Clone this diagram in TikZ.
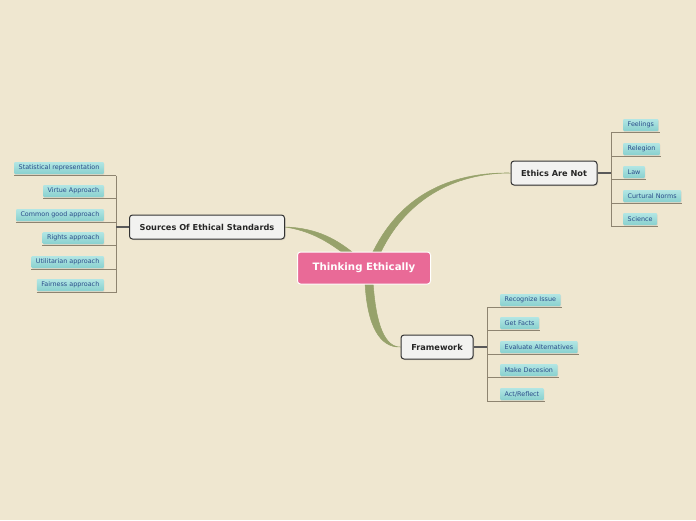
\documentclass[tikz,border=0pt]{standalone}
\usepackage{fontspec}
\setmainfont{DejaVu Sans}
\usetikzlibrary{calc,backgrounds,shadows}

\definecolor{paper}{HTML}{EFE7D0}
\definecolor{rootpink}{HTML}{E96A97}
\definecolor{branchgreen}{HTML}{97A26B}
\definecolor{topicfill}{HTML}{F2F2F0}
\definecolor{topicline}{HTML}{333333}
\definecolor{leaftop}{HTML}{B2E6E4}
\definecolor{leafbottom}{HTML}{88D0CE}
\definecolor{leaftext}{HTML}{2B4C8A}
\definecolor{twigline}{HTML}{8E8470}

\tikzset{
  rootnode/.style={draw=white, line width=1pt, fill=rootpink, rounded corners=3pt,
    text=white, font=\fontsize{10.2}{12}\selectfont\bfseries,
    minimum width=133pt, minimum height=32pt},
  topicnode/.style={draw=topicline, line width=1pt, fill=topicfill, rounded corners=3pt,
    text=black!85, font=\fontsize{8.2}{10}\selectfont\bfseries,
    minimum height=24pt, inner xsep=2pt,
    drop shadow={opacity=0.3, shadow xshift=1pt, shadow yshift=-1pt}},
  leafnode/.style={top color=leaftop, bottom color=leafbottom, rounded corners=1pt,
    text=leaftext, font=\fontsize{6.4}{8}\selectfont,
    minimum height=12pt, inner xsep=4.5pt, inner ysep=0pt,
    drop shadow={opacity=0.15, shadow xshift=0.5pt, shadow yshift=-1pt}},
  branch/.style={fill=branchgreen, draw=branchgreen, line width=0.5pt},
  twig/.style={draw=twigline, line width=1pt},
  stem/.style={draw=black!65, line width=1.3pt}
}

\begin{document}
\begin{tikzpicture}[x=1pt, y=-1pt]

  % Page: 696 x 520, y grows downward
  \useasboundingbox (0,0) rectangle (696,520);

  % Central and topic nodes
  \node[rootnode] (root) at (364,268) {Thinking Ethically};
  \node[topicnode, minimum width=155pt] (std) at (207,227) {Sources Of Ethical Standards};
  \node[topicnode, minimum width=86pt]  (ean) at (554,173) {Ethics Are Not};
  \node[topicnode, minimum width=72pt]  (fw)  at (437,347) {Framework};

  % Sources Of Ethical Standards (left)
  \node[leafnode, anchor=east] (std1) at (104,168) {Statistical representation};
  \node[leafnode, anchor=east] (std2) at (104,191) {Virtue Approach};
  \node[leafnode, anchor=east] (std3) at (104,215) {Common good approach};
  \node[leafnode, anchor=east] (std4) at (104,238) {Rights approach};
  \node[leafnode, anchor=east] (std5) at (104,262) {Utilitarian approach};
  \node[leafnode, anchor=east] (std6) at (104,285) {Fairness approach};

  % Ethics Are Not (right)
  \node[leafnode, anchor=west] (ean1) at (623,125) {Feelings};
  \node[leafnode, anchor=west] (ean2) at (623,149) {Relegion};
  \node[leafnode, anchor=west] (ean3) at (623,172) {Law};
  \node[leafnode, anchor=west] (ean4) at (623,196) {Curtural Norms};
  \node[leafnode, anchor=west] (ean5) at (623,219) {Science};

  % Framework (bottom)
  \node[leafnode, anchor=west] (fw1) at (500,300) {Recognize Issue};
  \node[leafnode, anchor=west] (fw2) at (500,323) {Get Facts};
  \node[leafnode, anchor=west] (fw3) at (500,347) {Evaluate Alternatives};
  \node[leafnode, anchor=west] (fw4) at (500,370) {Make Decesion};
  \node[leafnode, anchor=west] (fw5) at (500,394) {Act/Reflect};

  % Spines
  \coordinate (stdspine) at (116,227);
  \coordinate (eanspine) at (611,173);
  \coordinate (fwspine)  at (487,347);

  \begin{pgfonlayer}{background}
    \fill[paper] (0,0) rectangle (696,520);

    % Tapered branches from the centre
    \fill[branch] (std.east) .. controls (318,228) and (338,240) .. (357,256)
      -- (347,256) .. controls (330,243) and (312,231) .. (std.east);
    \fill[branch] (ean.west) .. controls (452,173) and (404,201) .. (379,256)
      -- (371,256) .. controls (398,197) and (448,172) .. (ean.west);
    \fill[branch] (373,282) .. controls (376,326) and (385,347) .. (fw.west)
      .. controls (380,348) and (367,326) .. (365,282) -- cycle;

    % Underlines and spines
    \foreach \i in {1,...,6} {
      \coordinate (std\i-u) at ($(std\i.south west)+(0,1.5)$);
      \draw[twig] (std\i-u) -- (std\i-u -| stdspine);
    }
    \foreach \i in {1,...,5} {
      \coordinate (ean\i-u) at ($(ean\i.south east)+(1,1.5)$);
      \draw[twig] (ean\i-u -| eanspine) -- (ean\i-u);
      \coordinate (fw\i-u) at ($(fw\i.south east)+(1,1.5)$);
      \draw[twig] (fw\i-u -| fwspine) -- (fw\i-u);
    }
    \draw[twig] (std1-u -| stdspine) -- (std6-u -| stdspine);
    \draw[twig] (ean1-u -| eanspine) -- (ean5-u -| eanspine);
    \draw[twig] (fw1-u -| fwspine) -- (fw5-u -| fwspine);

    % Stems from topics to spines
    \draw[stem] (std.west) -- (stdspine);
    \draw[stem] (ean.east) -- (eanspine);
    \draw[stem] (fw.east) -- (fwspine);
  \end{pgfonlayer}

\end{tikzpicture}
\end{document}
